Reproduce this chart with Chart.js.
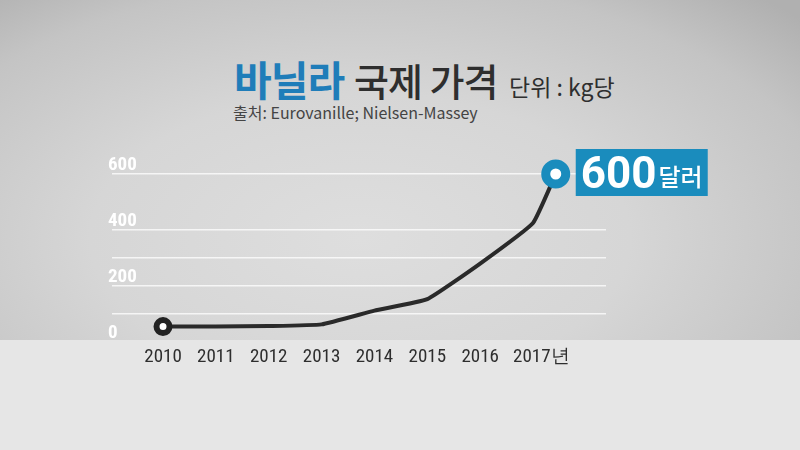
<!DOCTYPE html>
<html>
<head>
<meta charset="utf-8">
<script src="https://cdn.jsdelivr.net/npm/chart.js@4/dist/chart.umd.min.js"></script>
<style>
  html, body { margin: 0; padding: 0; width: 800px; height: 450px; overflow: hidden; }
  #bg { position: absolute; left: 0; top: 0; width: 800px; height: 340px;
        background: radial-gradient(ellipse 75% 95% at 45% 70%, #dedede 0%, #d6d6d6 45%, #c4c4c4 80%, #b0b0b0 100%); }
  #band { position: absolute; left: 0; top: 340px; width: 800px; height: 110px; background: #e6e6e6; }
  #wrap { position: absolute; left: 0; top: 0; width: 800px; height: 450px; }
  .t { position: absolute; white-space: nowrap; line-height: 1; font-family: "Noto Sans CJK KR", "Noto Sans", sans-serif; }
  #t1 { left: 234px; top: 58px; font-size: 41px; font-weight: 700; color: #1f7db9; letter-spacing: -1px; }
  #t2 { left: 354px; top: 61px; font-size: 38px; font-weight: 500; color: #2e2e2e; letter-spacing: -1px; }
  #t3 { left: 509px; top: 75px; font-size: 23px; font-weight: 400; color: #2e2e2e; }
  #t4 { left: 233px; top: 104px; font-size: 16px; font-weight: 400; color: #444; }
</style>
</head>
<body>
<div id="bg"></div>
<div id="band"></div>
<div class="t" id="t1">바닐라</div>
<div class="t" id="t2">국제 가격</div>
<div class="t" id="t3">단위 : kg당</div>
<div class="t" id="t4">출처: Eurovanille; Nielsen-Massey</div>
<div id="wrap"><canvas id="c" width="800" height="450"></canvas></div>
<script>
// --- data ---
const pointYears = [2010, 2011, 2012, 2013, 2014, 2015, 2016, 2017, 2017.43];
const prices     = [55, 55, 57, 63, 112, 153, 280, 425, 600];
const tickYears  = [2010, 2011, 2012, 2013, 2014, 2015, 2016, 2017];
const tickLabels = ['2010', '2011', '2012', '2013', '2014', '2015', '2016', '2017년'];
const yTicks     = [0, 100, 200, 300, 400, 500, 600];
const yLabelled  = [0, 200, 400, 600];
const yGridShown = [100, 200, 300, 400, 600];
const unitLabel  = '달러';

const last = prices.length - 1;
const BLUE = '#1a8cbd';
const NARROW = '"Roboto Condensed", "Liberation Sans Narrow", "Arial Narrow", Roboto, sans-serif';

const calloutPlugin = {
  id: 'callout',
  afterDatasetsDraw(chart) {
    const meta = chart.getDatasetMeta(0);
    const pt = meta.data[last];
    const ctx = chart.ctx;
    const bx = pt.x + 20, by = pt.y - 25, bw = 132, bh = 47;
    ctx.save();
    ctx.fillStyle = BLUE;
    ctx.fillRect(bx, by, bw, bh);
    ctx.fillStyle = '#ffffff';
    ctx.textBaseline = 'alphabetic';
    ctx.textAlign = 'left';
    ctx.font = 'bold 44px Roboto, "Noto Sans", sans-serif';
    const num = String(prices[last]);
    ctx.fillText(num, bx + 5, by + 39);
    const w = ctx.measureText(num).width;
    ctx.font = '500 24px "Noto Sans CJK KR", sans-serif';
    ctx.fillText(unitLabel, bx + 7 + w, by + 37);
    ctx.restore();
  }
};

new Chart(document.getElementById('c'), {
  type: 'line',
  data: {
    datasets: [{
      data: pointYears.map((x, i) => ({ x: x, y: prices[i] })),
      borderColor: '#2a2a2a',
      borderWidth: 4,
      tension: 0.12,
      clip: false,
      pointRadius: prices.map((v, i) => i === 0 ? 6.5 : (i === last ? 10 : 0)),
      pointHoverRadius: prices.map((v, i) => i === 0 ? 6.5 : (i === last ? 10 : 0)),
      pointBorderWidth: prices.map((v, i) => i === 0 ? 6 : (i === last ? 9 : 0)),
      pointBorderColor: prices.map((v, i) => i === last ? BLUE : '#222222'),
      pointBackgroundColor: '#ffffff'
    }]
  },
  options: {
    responsive: false,
    animation: false,
    events: [],
    layout: { padding: { left: 112, right: 194, top: 174, bottom: 0 } },
    plugins: { legend: { display: false }, tooltip: { enabled: false }, title: { display: false } },
    scales: {
      x: {
        type: 'linear',
        min: 2009.035,
        max: 2018.381,
        afterBuildTicks: (axis) => { axis.ticks = tickYears.map(v => ({ value: v })); },
        afterFit: (axis) => { axis.height = 108; },
        grid: { display: false, drawTicks: false },
        border: { display: false },
        ticks: {
          padding: 4,
          maxRotation: 0,
          autoSkip: false,
          color: '#2e2e2e',
          font: { family: NARROW, size: 19 },
          callback: (v) => {
            const i = tickYears.indexOf(v);
            if (i < 0) return '';
            const s = tickLabels[i];
            // keep the year digits centred on the tick when a unit suffix follows
            return s.length > 4 ? '\u2003' + s : s;
          }
        }
      },
      y: {
        type: 'linear',
        min: 0,
        max: 600,
        afterBuildTicks: (axis) => { axis.ticks = yTicks.map(v => ({ value: v })); },
        afterFit: (axis) => { axis.width = 0; },
        grid: {
          drawTicks: false,
          lineWidth: 1.5,
          color: (c) => yGridShown.includes(c.tick.value) ? 'rgba(255,255,255,0.75)' : 'rgba(0,0,0,0)'
        },
        border: { display: false },
        ticks: {
          mirror: true,
          padding: -4,
          labelOffset: -9,
          color: '#ffffff',
          font: { family: NARROW, size: 19, weight: 'bold' },
          callback: (v) => yLabelled.includes(v) ? String(v) : ''
        }
      }
    }
  },
  plugins: [calloutPlugin]
});
</script>
</body>
</html>
